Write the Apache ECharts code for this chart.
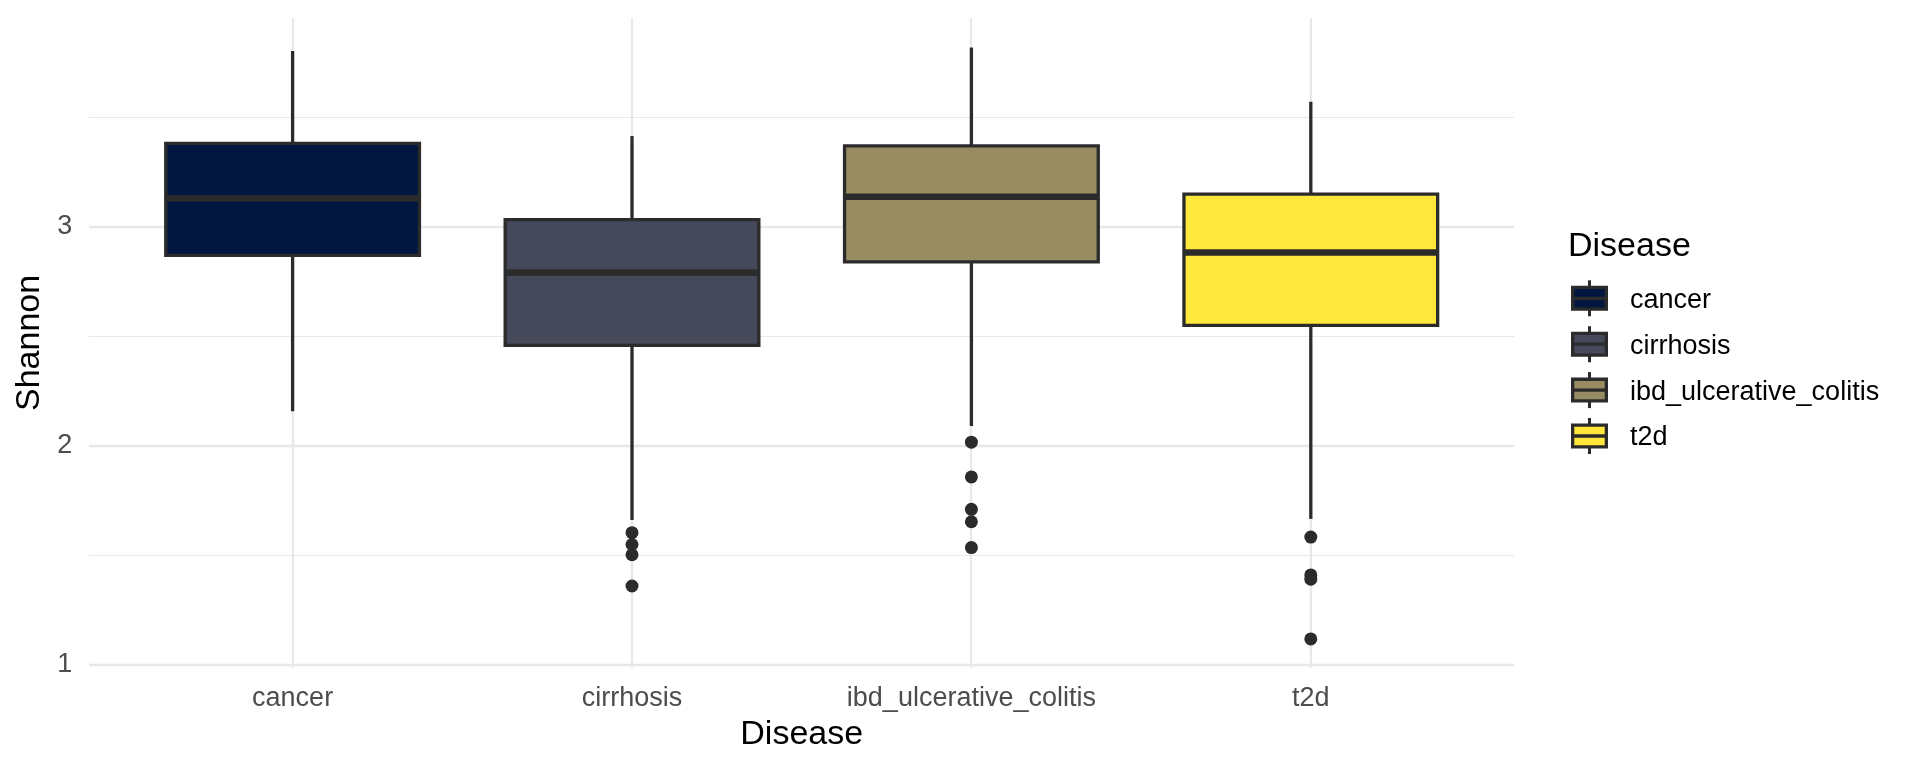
<!DOCTYPE html>
<html lang="en">
<head>
    <meta charset="UTF-8">
    <title>Shannon by Disease</title>
    <script src="https://cdn.jsdelivr.net/npm/echarts@6/dist/echarts.min.js"></script>
    <style>
        html, body { margin: 0; padding: 0; background: #fff; }
        #chart { width: 1920px; height: 768px; }
    </style>
</head>
<body>
    <div id="chart"></div>

    <script>
        // values
        var categories = ['cancer', 'cirrhosis', 'ibd_ulcerative_colitis', 't2d'];
        var whiskerLow  = [2.157, 1.660, 2.090, 1.665];
        var q1          = [2.870, 2.459, 2.841, 2.550];
        var median      = [3.132, 2.792, 3.139, 2.884];
        var q3          = [3.383, 3.034, 3.371, 3.150];
        var whiskerHigh = [3.805, 3.416, 3.821, 3.573];
        var outliers = [
            [],
            [1.602, 1.548, 1.501, 1.358],
            [2.016, 1.857, 1.709, 1.652, 1.534],
            [1.582, 1.409, 1.389, 1.116]
        ];
        var fills = ['#021740', '#454959', '#978C62', '#FFE83B'];

        var yMin = 0.984, yMax = 3.956;
        var LINE = '#2b2b2b';
        var LW = 3.3, MED_LW = 6.5, BOX_W = 253.7;
        var FONT = '"Liberation Sans", Arial, Helvetica, sans-serif';

        var chart = echarts.init(document.getElementById('chart'));

        var boxData = categories.map(function (c, i) {
            return [i, whiskerLow[i], q1[i], median[i], q3[i], whiskerHigh[i]];
        });
        var outlierData = [];
        outliers.forEach(function (list, i) {
            list.forEach(function (v) { outlierData.push([i, v]); });
        });

        // legend keys drawn as small boxplot glyphs
        var legendItems = [{
            type: 'text', x: 1568, y: 247,
            style: { text: 'Disease', font: '34px ' + FONT, fill: '#000', verticalAlign: 'middle' }
        }];
        var keyX = 1571, keyW = 37, keyH = 25, firstY = 298.3, stepY = 45.9;
        categories.forEach(function (c, i) {
            var cy = firstY + i * stepY;
            var cx = keyX + keyW / 2;
            legendItems.push(
                { type: 'line', shape: { x1: cx, y1: cy - 18, x2: cx, y2: cy + 18 },
                  style: { stroke: LINE, lineWidth: 3 } },
                { type: 'rect', shape: { x: keyX + LW / 2, y: cy - keyH / 2 + LW / 2, width: keyW - LW, height: keyH - LW },
                  style: { fill: fills[i], stroke: LINE, lineWidth: LW } },
                { type: 'line', shape: { x1: keyX + LW / 2, y1: cy, x2: keyX + keyW - LW / 2, y2: cy },
                  style: { stroke: LINE, lineWidth: LW } },
                { type: 'text', x: 1630, y: cy + 2,
                  style: { text: c, font: '27px ' + FONT, fill: '#000', verticalAlign: 'middle' } }
            );
        });

        var gridLine = '#E8E8E8';

        chart.setOption({
            animation: false,
            backgroundColor: '#fff',
            textStyle: { fontFamily: FONT },
            grid: [
                { left: 89, right: 406, top: 18, bottom: 100.2 },
                { left: 122.9, right: 439.5, top: 18, bottom: 100.2 }
            ],
            xAxis: [{
                type: 'value', gridIndex: 0, min: -0.6, max: 3.6, splitNumber: 4,
                axisLine: { show: false }, axisTick: { show: false }, axisLabel: { show: false },
                splitLine: { show: true, showMinLine: false, showMaxLine: false,
                             lineStyle: { color: gridLine, width: 2.3 } }
            }, {
                type: 'category', gridIndex: 1, data: categories,
                axisLine: { show: false }, axisTick: { show: false },
                axisLabel: { fontSize: 27, color: '#4D4D4D', margin: 17 },
                splitLine: { show: false },
                name: 'Disease', nameLocation: 'middle', nameGap: 50,
                nameTextStyle: { fontSize: 34, color: '#000' }
            }],
            yAxis: [{
                type: 'value', gridIndex: 0, min: yMin, max: yMax, splitNumber: 3,
                axisLine: { show: false }, axisTick: { show: false },
                axisLabel: {
                    fontSize: 27, color: '#4D4D4D', margin: 16.7,
                    showMinLabel: false, showMaxLabel: false,
                    formatter: function (v) { return Math.abs(v - Math.round(v)) < 1e-6 ? String(Math.round(v)) : ''; }
                },
                splitLine: { show: true, showMinLine: false, showMaxLine: false,
                             lineStyle: { color: gridLine, width: 2.3 } },
                name: 'Shannon', nameLocation: 'middle', nameRotate: 90, nameGap: 37,
                nameTextStyle: { fontSize: 34, color: '#000' }
            }, {
                type: 'value', gridIndex: 0, min: yMin, max: yMax, splitNumber: 6,
                axisLine: { show: false }, axisTick: { show: false }, axisLabel: { show: false },
                splitLine: { show: true, showMinLine: false, showMaxLine: false,
                             lineStyle: { color: gridLine, width: 1.2 } }
            }, {
                type: 'value', gridIndex: 1, min: yMin, max: yMax,
                axisLine: { show: false }, axisTick: { show: false }, axisLabel: { show: false },
                splitLine: { show: false }
            }],
            series: [{
                type: 'custom',
                xAxisIndex: 1, yAxisIndex: 2,
                data: boxData,
                encode: { x: 0, y: [1, 2, 3, 4, 5] },
                renderItem: function (params, api) {
                    var x = api.value(0);
                    var lo = api.coord([x, api.value(1)]);
                    var b1 = api.coord([x, api.value(2)]);
                    var md = api.coord([x, api.value(3)]);
                    var b3 = api.coord([x, api.value(4)]);
                    var hi = api.coord([x, api.value(5)]);
                    var cx = lo[0], half = BOX_W / 2;
                    var ls = { stroke: LINE, lineWidth: LW };
                    return {
                        type: 'group',
                        children: [
                            { type: 'line', shape: { x1: cx, y1: hi[1], x2: cx, y2: b3[1] }, style: ls },
                            { type: 'line', shape: { x1: cx, y1: b1[1], x2: cx, y2: lo[1] }, style: ls },
                            { type: 'rect', shape: { x: cx - half, y: b3[1], width: BOX_W, height: b1[1] - b3[1] },
                              style: { fill: fills[params.dataIndex], stroke: LINE, lineWidth: LW } },
                            { type: 'line', shape: { x1: cx - half, y1: md[1], x2: cx + half, y2: md[1] },
                              style: { stroke: LINE, lineWidth: MED_LW } }
                        ]
                    };
                }
            }, {
                type: 'scatter',
                xAxisIndex: 1, yAxisIndex: 2,
                data: outlierData,
                symbol: 'circle', symbolSize: 13,
                itemStyle: { color: LINE, opacity: 1 },
                z: 5
            }],
            graphic: legendItems
        });
    </script>
</body>
</html>
